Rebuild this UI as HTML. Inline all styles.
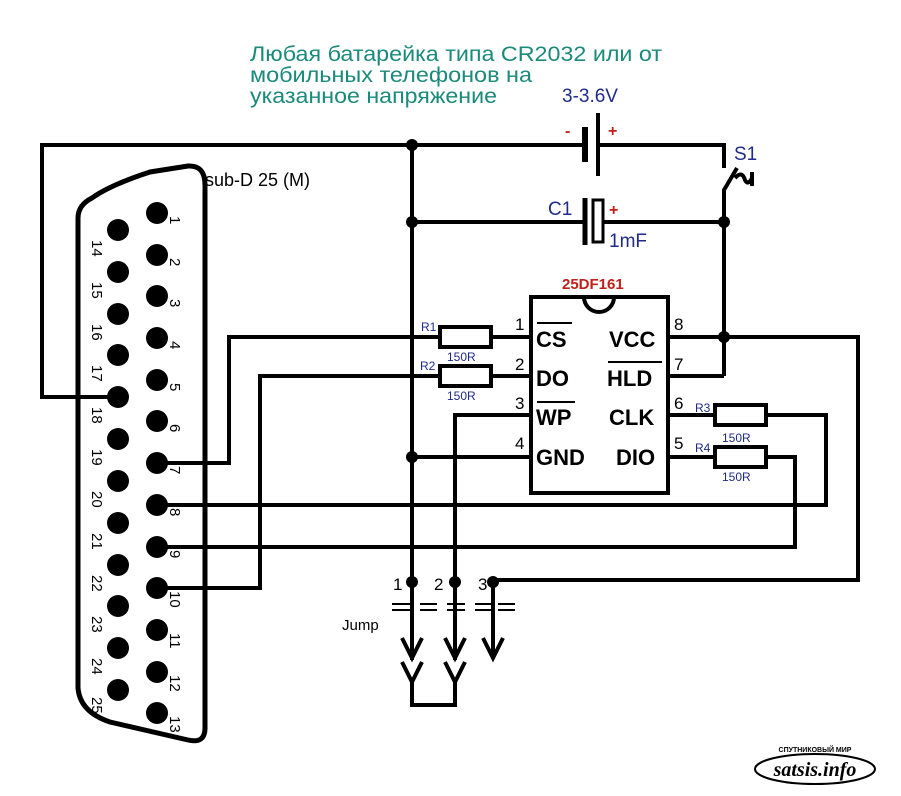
<!DOCTYPE html>
<html><head><meta charset="utf-8"><style>body{margin:0;background:#fff}svg{display:block}</style></head><body>
<svg width="901" height="796" viewBox="0 0 901 796" xmlns="http://www.w3.org/2000/svg" font-family="Liberation Sans, sans-serif">
<rect width="901" height="796" fill="#fff"/>
<g fill="none" stroke="#000" stroke-width="4">
<path d="M92,198 Q110,185 150,172 L188,166 Q205,165 205,185 L205,728 Q205,744 188,740 L110,722 Q80,712 78,688 L78,218 Q78,205 92,198 Z" stroke-width="5"/>
<polyline points="118,397 42,397 42,145 585,145"/>
<polyline points="598,145 724,145 724,168"/>
<line x1="585" y1="127" x2="585" y2="162" stroke-width="6"/>
<line x1="598" y1="113" x2="598" y2="176"/>
<polyline points="724,195 724,190 737,168"/>
<path d="M735,178 Q742,170 745,180 Q748,186 752,178 L752,172 L752,186"/>
<line x1="724" y1="195" x2="724" y2="376"/>
<line x1="412" y1="145" x2="412" y2="660"/>
<line x1="412" y1="222" x2="584" y2="222"/>
<line x1="585" y1="198" x2="585" y2="245" stroke-width="5"/>
<rect x="593" y="200" width="10" height="42" stroke-width="3"/>
<line x1="603" y1="222" x2="724" y2="222"/>
<rect x="531" y="297" width="137" height="196"/>
<path d="M584,297 A15,15 0 0 0 614,297"/>
<polyline points="157,463 229,463 229,337 440,337"/>
<rect x="440" y="327" width="51" height="20"/>
<line x1="491" y1="337" x2="531" y2="337"/>
<polyline points="157,588 260,588 260,376 440,376"/>
<rect x="440" y="366" width="51" height="20"/>
<line x1="491" y1="376" x2="531" y2="376"/>
<polyline points="455,660 455,415 531,415"/>
<line x1="412" y1="457" x2="531" y2="457"/>
<polyline points="668,337 858,337 858,580 493,580"/>
<line x1="668" y1="376" x2="724" y2="376"/>
<line x1="668" y1="415" x2="715" y2="415"/>
<rect x="715" y="405" width="51" height="20"/>
<polyline points="766,415 826,415 826,505 157,505"/>
<line x1="668" y1="457" x2="715" y2="457"/>
<rect x="715" y="447" width="51" height="20"/>
<polyline points="766,457 795,457 795,547 157,547"/>
<line x1="493" y1="580" x2="493" y2="658"/>
<polyline points="402,638 412,658 422,638"/>
<polyline points="445,638 455,658 465,638"/>
<polyline points="483,638 493,658 503,638"/>
<polyline points="402,662 412,682 422,662"/>
<polyline points="445,662 455,682 465,662"/>
<polyline points="412,682 412,705 455,705 455,682"/>
</g>
<g stroke="#000" stroke-width="2">
<path d="M392,604h18M420,604h17M447,604h18M475,604h17M498,604h17M392,610h18M420,610h17M447,610h18M475,610h17M498,610h17"/>
</g>
<g fill="#000">
<circle cx="412" cy="145" r="6"/><circle cx="412" cy="222" r="6"/><circle cx="412" cy="457" r="6"/>
<circle cx="724" cy="222" r="6"/><circle cx="724" cy="337" r="6"/>
<circle cx="412" cy="582" r="6"/><circle cx="455" cy="582" r="6"/><circle cx="493" cy="582" r="6"/>
<circle cx="157" cy="213" r="11"/><circle cx="157" cy="255" r="11"/><circle cx="157" cy="296" r="11"/><circle cx="157" cy="338" r="11"/><circle cx="157" cy="380" r="11"/><circle cx="157" cy="421" r="11"/><circle cx="157" cy="463" r="11"/><circle cx="157" cy="505" r="11"/><circle cx="157" cy="547" r="11"/><circle cx="157" cy="588" r="11"/><circle cx="157" cy="630" r="11"/><circle cx="157" cy="672" r="11"/><circle cx="157" cy="713" r="11"/>
<circle cx="118" cy="230" r="11"/><circle cx="118" cy="272" r="11"/><circle cx="118" cy="314" r="11"/><circle cx="118" cy="355" r="11"/><circle cx="118" cy="397" r="11"/><circle cx="118" cy="439" r="11"/><circle cx="118" cy="481" r="11"/><circle cx="118" cy="523" r="11"/><circle cx="118" cy="565" r="11"/><circle cx="118" cy="606" r="11"/><circle cx="118" cy="648" r="11"/><circle cx="118" cy="690" r="11"/>
</g>
<g font-size="15" fill="#000">
<text transform="translate(170,216) rotate(90)">1</text><text transform="translate(170,258) rotate(90)">2</text><text transform="translate(170,299) rotate(90)">3</text><text transform="translate(170,341) rotate(90)">4</text><text transform="translate(170,383) rotate(90)">5</text><text transform="translate(170,424) rotate(90)">6</text><text transform="translate(170,466) rotate(90)">7</text><text transform="translate(170,508) rotate(90)">8</text><text transform="translate(170,550) rotate(90)">9</text><text transform="translate(170,591) rotate(90)">10</text><text transform="translate(170,633) rotate(90)">11</text><text transform="translate(170,675) rotate(90)">12</text><text transform="translate(170,716) rotate(90)">13</text>
<text transform="translate(92,240) rotate(90)">14</text><text transform="translate(92,282) rotate(90)">15</text><text transform="translate(92,324) rotate(90)">16</text><text transform="translate(92,365) rotate(90)">17</text><text transform="translate(92,407) rotate(90)">18</text><text transform="translate(92,449) rotate(90)">19</text><text transform="translate(92,491) rotate(90)">20</text><text transform="translate(92,533) rotate(90)">21</text><text transform="translate(92,575) rotate(90)">22</text><text transform="translate(92,616) rotate(90)">23</text><text transform="translate(92,658) rotate(90)">24</text><text transform="translate(92,697) rotate(90)">25</text>
</g>
<g fill="#1a8a7a" font-size="21"><text x="250" y="61" textLength="412" lengthAdjust="spacingAndGlyphs">Любая батарейка типа CR2032 или от</text><text x="250" y="82" textLength="282" lengthAdjust="spacingAndGlyphs">мобильных телефонов на</text><text x="250" y="103" textLength="247" lengthAdjust="spacingAndGlyphs">указанное напряжение</text></g>
<g fill="#1f2a8a" font-size="19"><text x="562" y="102">3-3.6V</text><text x="734" y="160">S1</text><text x="548" y="215">C1</text><text x="609" y="247">1mF</text></g>
<g fill="#c0201a" font-size="16" font-weight="bold"><text x="565" y="136">-</text><text x="608" y="136">+</text><text x="609" y="215">+</text></g>
<text x="205" y="186" font-size="18">sub-D 25 (M)</text>
<text x="562" y="289" font-size="15" font-weight="bold" fill="#c0201a">25DF161</text>
<g font-size="22" font-weight="bold"><text x="536" y="347">CS</text><text x="536" y="386">DO</text><text x="536" y="425">WP</text><text x="536" y="465">GND</text><text x="609" y="347">VCC</text><text x="607" y="386">HLD</text><text x="609" y="425">CLK</text><text x="616" y="465">DIO</text></g>
<g stroke="#000" stroke-width="2"><line x1="537" y1="323" x2="572" y2="323"/><line x1="537" y1="402" x2="575" y2="402"/><line x1="608" y1="362" x2="662" y2="362"/></g>
<g font-size="17"><text x="515" y="330">1</text><text x="515" y="370">2</text><text x="515" y="409">3</text><text x="515" y="449">4</text><text x="674" y="330">8</text><text x="674" y="370">7</text><text x="674" y="409">6</text><text x="674" y="449">5</text>
<text x="393" y="590">1</text><text x="434" y="590">2</text><text x="478" y="590">3</text><text x="342" y="630" font-size="15">Jump</text></g>
<g fill="#1f2a8a" font-size="12"><text x="421" y="331">R1</text><text x="447" y="361">150R</text><text x="420" y="370">R2</text><text x="447" y="400">150R</text><text x="695" y="412">R3</text><text x="722" y="442">150R</text><text x="695" y="452">R4</text><text x="722" y="481">150R</text></g>
<ellipse cx="815" cy="769" rx="60" ry="15" fill="none" stroke="#000" stroke-width="2"/>
<text x="815" y="776" text-anchor="middle" font-family="Liberation Serif, serif" font-style="italic" font-weight="bold" font-size="20">satsis.info</text>
<text x="815" y="752" text-anchor="middle" font-size="7" font-weight="bold">СПУТНИКОВЫЙ МИР</text>
</svg>
</body></html>
